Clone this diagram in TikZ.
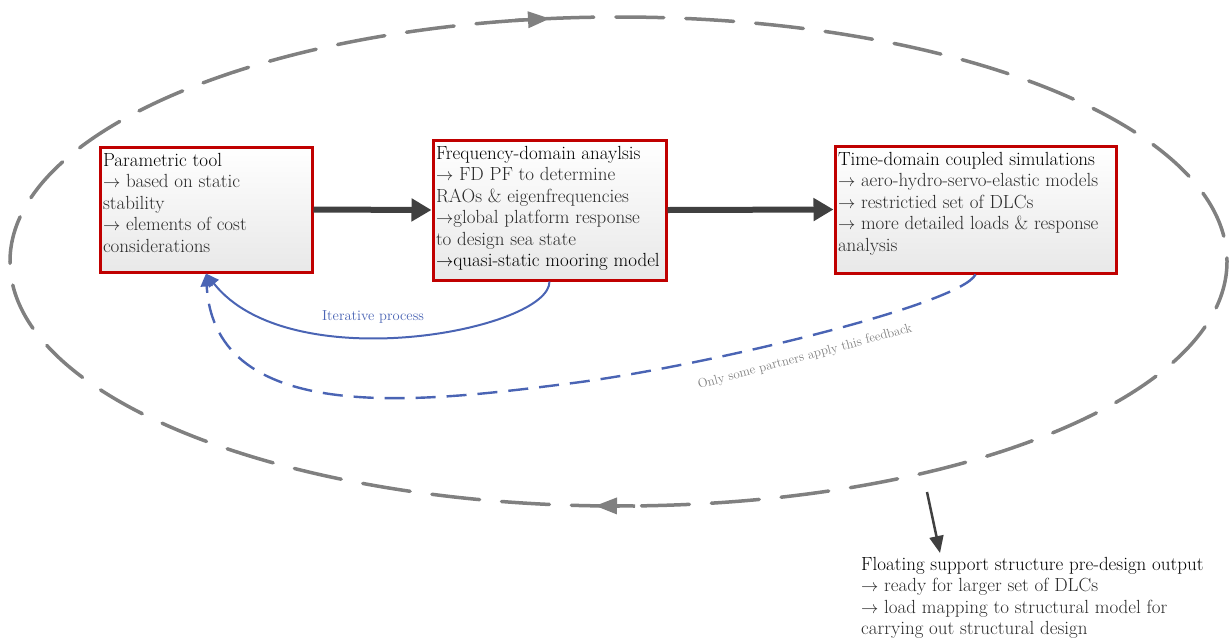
\documentclass[tikz,border=0pt]{standalone}
\usetikzlibrary{arrows.meta}
\definecolor{boxred}{HTML}{C00000}
\definecolor{darkarrow}{HTML}{404040}
\definecolor{loopgray}{HTML}{808080}
\definecolor{fbblue}{HTML}{4A64B4}
\definecolor{txtgray}{HTML}{2A2A2A}
\newcommand\bodyfont{\fontsize{19}{21.5}\selectfont}
\newcommand\boxbody[3]{\begin{minipage}[c][#2][t]{#1}\raggedright\bodyfont #3\end{minipage}}
\tikzset{
  procbox/.style={draw=boxred, line width=3pt, top color=white, bottom color=gray!18, inner xsep=3pt, inner ysep=6pt},
  flowarrow/.style={draw=darkarrow, line width=6pt, -{Triangle[length=20pt,width=22pt]}},
  fbline/.style={draw=fbblue, line width=2pt, -{Triangle[length=13pt,width=12pt]}},
  fbdash/.style={fbline, line width=2.4pt, dash pattern=on 20pt off 11pt},
  loopline/.style={draw=loopgray, line width=3.5pt, line cap=round, dash pattern=on 48pt off 22pt},
  looparrow/.style={draw=loopgray, line width=3.5pt, -{Triangle[length=22pt,width=16pt]}},
  outarrow/.style={draw=darkarrow, line width=2.5pt, -{Triangle[length=17pt,width=14pt]}},
  iterlabel/.style={text=fbblue, font=\fontsize{14.5}{16}\selectfont},
  partlabel/.style={text=loopgray, font=\fontsize{13}{15}\selectfont},
}
\begin{document}
\begin{tikzpicture}[x=1pt, y=-1pt]
\useasboundingbox (0,0) rectangle (1229,638);

% outer iterative loop
\draw[loopline] (618.5,261.5) ellipse [x radius=608.5, y radius=244.5];
\draw[looparrow] (515,20.4) -- (550,18.6);
\draw[looparrow] (635,506) -- (595,505.8);

% process boxes
\node[procbox] (box1) at (206,209.5) {\boxbody{206pt}{113pt}{Parametric tool\\
{\color{txtgray}$\rightarrow$ based on static\\ stability\\ $\rightarrow$ elements of cost\\ considerations}}};
\node[procbox] (box2) at (549.5,210) {\boxbody{227pt}{128pt}{Frequency-domain anaylsis\\
{\color{txtgray}$\rightarrow$ FD PF to determine\\ RAOs \& eigenfrequencies\\ $\rightarrow$global platform response\\ to design sea state}\\
$\rightarrow$quasi-static mooring model}};
\node[procbox] (box3) at (975.5,209.5) {\boxbody{275pt}{115pt}{Time-domain coupled simulations\\
{\color{txtgray}$\rightarrow$ aero-hydro-servo-elastic models\\ $\rightarrow$ restrictied set of DLCs\\ $\rightarrow$ more detailed loads \& response\\ analysis}}};

% main flow
\draw[flowarrow] (box1.east) -- (box2.west);
\draw[flowarrow] (box2.east) -- (box3.west);

% feedback loops
\coordinate (fbmid) at (573,383);
\draw[fbdash] (box3.south) .. controls (960,305) and (700,367) .. (fbmid)
  .. controls (430,401) and (215,430) .. (box1.south);
\draw[fbline] (box2.south) .. controls (550,330) and (290,380) .. (box1.south);
\node[iterlabel] (iterlbl) at (373,317) {Iterative process};
\node[partlabel, rotate=15] (partlbl) at (805,357) {Only some partners apply this feedback};

% output
\coordinate (outstart) at (927,492);
\coordinate (outend) at (940,553);
\draw[outarrow] (outstart) -- (outend);
\node[anchor=north west, align=left, inner sep=0pt, font=\bodyfont] (output) at (861,557) {Floating support structure pre-design output\\
{\color{txtgray}$\rightarrow$ ready for larger set of DLCs}\\
{\color{txtgray}$\rightarrow$ load mapping to structural model for}\\
{\color{txtgray}carrying out structural design}};
\end{tikzpicture}
\end{document}
